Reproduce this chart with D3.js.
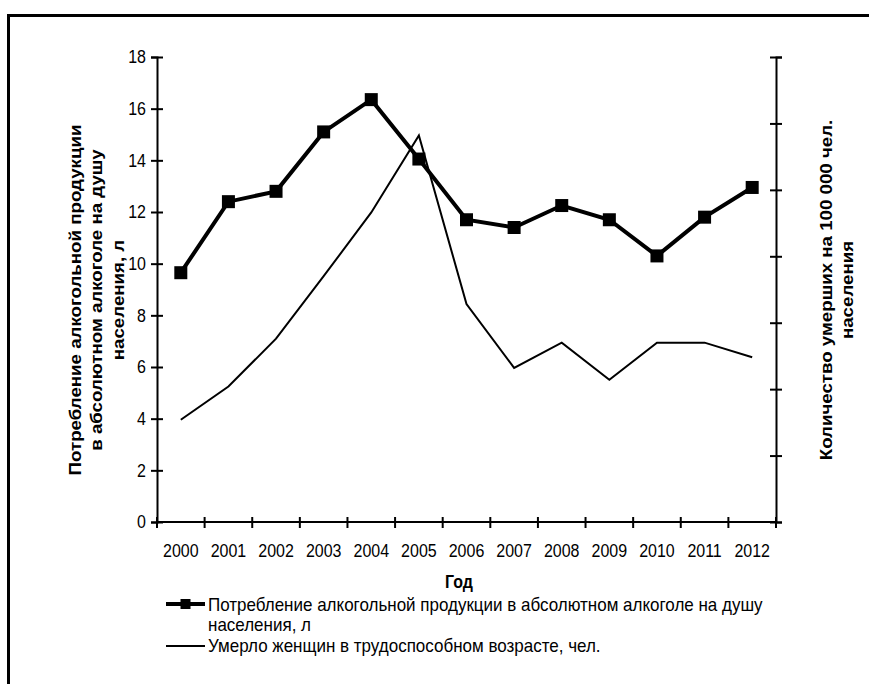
<!DOCTYPE html>
<html><head><meta charset="utf-8">
<script src="https://cdn.jsdelivr.net/npm/d3@7"></script>
<style>
body{margin:0;background:#fff}
svg text{font-family:"Liberation Sans",Arial,sans-serif;fill:#000}
</style>
</head><body>
<svg id="c" width="869" height="684"></svg>
<script>
// ---- data ----
const years = ["2000","2001","2002","2003","2004","2005","2006","2007","2008","2009","2010","2011","2012"];
const alcohol = [9.65,12.4,12.8,15.1,16.35,14.05,11.7,11.4,12.25,11.7,10.3,11.8,12.95];
const deaths = [77,102,138,185,233,291,164,116,135,107,135,135,124];
const leftTicks = [0,2,4,6,8,10,12,14,16,18];
const rightTicks = [0,50,100,150,200,250,300,350];
const leftTitle = ["Потребление алкогольной продукции","в абсолютном алкоголе на душу","населения, л"];
const rightTitle = ["Количество умерших на 100 000 чел.","населения"];
const xTitle = "Год";
const legend1 = ["Потребление алкогольной продукции в абсолютном алкоголе на душу","населения, л"];
const legend2 = "Умерло женщин в трудоспособном возрасте, чел.";

// ---- layout ----
const L=157, R=776, T=57, B=522, SY=1.1;
const svg = d3.select("#c");

// frame
svg.append("line").attr("x1",7).attr("x2",869).attr("y1",15.5).attr("y2",15.5).attr("stroke","#000").attr("stroke-width",3);
svg.append("line").attr("x1",8.5).attr("x2",8.5).attr("y1",14).attr("y2",684).attr("stroke","#000").attr("stroke-width",3);

const x = d3.scaleBand().domain(years).range([L,R]);
const yL = d3.scaleLinear().domain([0,18]).range([B,T]);
const yR = d3.scaleLinear().domain([0,350]).range([B,T]);
const cx = d => x(d)+x.bandwidth()/2;

// left axis
const gL = svg.append("g").attr("transform",`translate(${L},0)`)
  .call(d3.axisLeft(yL).tickValues(leftTicks).tickSize(6).tickPadding(6).tickFormat(d3.format("d")));
gL.select(".domain").attr("stroke-width",2);
gL.selectAll(".tick line").attr("x1",-6).attr("x2",6).attr("stroke-width",2);
gL.selectAll(".tick text").attr("font-size",16).attr("x",0).attr("dy","0.33em")
  .attr("transform",`translate(-11,0) scale(1,${SY})`);

// right axis
const gR = svg.append("g").attr("transform",`translate(${R},0)`)
  .call(d3.axisRight(yR).tickValues(rightTicks).tickSize(6).tickFormat(""));
gR.select(".domain").attr("stroke-width",2);
gR.selectAll(".tick line").attr("x1",-6).attr("x2",6).attr("stroke-width",2);

// bottom axis
const gB = svg.append("g").attr("transform",`translate(0,${B})`)
  .call(d3.axisBottom(x).tickSize(0).tickPadding(0));
gB.select(".domain").attr("stroke-width",2).attr("d",`M${L},0H${R}`);
gB.selectAll(".tick text").attr("font-size",16).attr("dy",0).attr("y",0)
  .attr("transform",`translate(0,35) scale(1,${SY})`);
const bounds = years.map(d=>x(d)).concat([R]);
gB.selectAll("line.b").data(bounds).enter().append("line").attr("class","b")
  .attr("x1",d=>d).attr("x2",d=>d).attr("y1",-5).attr("y2",6).attr("stroke","#000").attr("stroke-width",2);

// series
const lineA = d3.line().x((d,i)=>cx(years[i])).y(d=>yL(d));
const lineD = d3.line().x((d,i)=>cx(years[i])).y(d=>yR(d));
svg.append("path").datum(alcohol).attr("d",lineA).attr("fill","none").attr("stroke","#000").attr("stroke-width",4).attr("stroke-linejoin","miter");
svg.selectAll("rect.m").data(alcohol).enter().append("rect").attr("class","m")
  .attr("x",(d,i)=>cx(years[i])-6.5).attr("y",d=>yL(d)-6.5).attr("width",13).attr("height",13).attr("fill","#000");
svg.append("path").datum(deaths).attr("d",lineD).attr("fill","none").attr("stroke","#000").attr("stroke-width",2).attr("stroke-linejoin","miter");

// titles (rotated; slight vertical stretch like the reference)
const tl = svg.append("text").attr("transform",`translate(81,300) scale(1,${SY}) rotate(-90)`).attr("text-anchor","middle").attr("font-size",17).attr("font-weight","bold");
leftTitle.forEach((s,i)=>tl.append("tspan").attr("x",0).attr("y",i*21.5).text(s));
const tr = svg.append("text").attr("transform",`translate(831.5,290) scale(1,${SY}) rotate(-90)`).attr("text-anchor","middle").attr("font-size",17).attr("font-weight","bold");
rightTitle.forEach((s,i)=>tr.append("tspan").attr("x",0).attr("y",i*21.5).text(s));
svg.append("text").attr("transform",`translate(459,588) scale(1,${SY})`).attr("text-anchor","middle").attr("font-size",16).attr("font-weight","bold").text(xTitle);

// legend
svg.append("line").attr("x1",166).attr("x2",205).attr("y1",604).attr("y2",604).attr("stroke","#000").attr("stroke-width",4);
svg.append("rect").attr("x",180.5).attr("y",599).attr("width",10).attr("height",10).attr("fill","#000");
const lt = svg.append("text").attr("font-size",17).attr("transform",`translate(208,611) scale(1,${SY})`);
legend1.forEach((s,i)=>lt.append("tspan").attr("x",0).attr("y",i*20.5/SY).text(s));
svg.append("line").attr("x1",166).attr("x2",205).attr("y1",646).attr("y2",646).attr("stroke","#000").attr("stroke-width",2);
svg.append("text").attr("transform",`translate(208,652) scale(1,${SY})`).attr("font-size",17).text(legend2);
</script>
</body></html>
